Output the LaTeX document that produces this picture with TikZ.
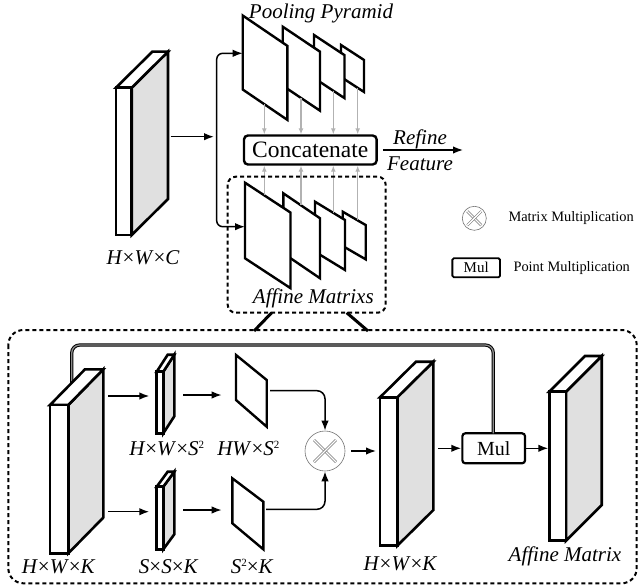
\documentclass[tikz,border=0pt]{standalone}
\usepackage{fontspec}
\setmainfont{Liberation Serif}
\usetikzlibrary{arrows.meta}
\tikzset{
  blk/.style={line width=2.6pt},
  plane/.style={line width=2.4pt, fill=white},
  arr/.style={line width=1.5pt, -{Latex[length=10pt,width=7.5pt]}},
  garr/.style={line width=1.4pt, draw=black!30, -{Latex[length=6pt,width=5pt]}},
  lbl/.style={font=\fontsize{21}{21}\selectfont\itshape, inner sep=0pt},
  dashbox/.style={line width=2pt, dash pattern=on 4pt off 3pt},
  otimes/.style={draw=black!55, line width=0.6pt, fill=white},
  xline/.style={draw=black!55, double=white, double distance=1.3pt, line width=0.6pt},
}
\newcommand\myblock[6]{%
  \filldraw[blk, fill=black!12] (#2,#3) -- ++(#5,-#6) -- ++(0,#4-#3) -- (#2,#4) -- cycle;
  \filldraw[blk, fill=white] (#1,#3) -- (#2,#3) -- ++(#5,-#6) -- ++(#1-#2,0) -- cycle;
  \filldraw[blk, fill=white] (#1,#3) rectangle (#2,#4);
}
\newcommand\myplane[5]{\filldraw[plane] (#1,#2) -- ++(#3,#3*#5) -- ++(0,#4) -- ++(-#3,-#3*#5) -- cycle;}
\newcommand\sqr{\raisebox{7pt}{\upshape\fontsize{11}{11}\selectfont 2}}
\begin{document}
\begin{tikzpicture}[x=1pt,y=-1pt]
\useasboundingbox (0,0) rectangle (640,586);

% ---------- top part ----------
\myblock{116}{131.7}{87.7}{235}{36.3}{36}
\node[lbl] (lc) at (143,258) {H\textup{×}W\textup{×}C};

\coordinate (cout) at (170.7,136.7);
\coordinate (cin) at (214,136.7);
\draw[arr] (cout) -- (cin);

% pyramid planes (back to front)
\myplane{341}{45}{23}{32}{0.65}
\myplane{314}{35}{30.5}{43}{0.66}
\myplane{282.7}{26.7}{37.3}{59}{0.67}
\myplane{242.7}{15.5}{44.6}{74}{0.68}
\node[lbl] (pp) at (321,13) {Pooling Pyramid};

% affine planes
\myplane{342.7}{211.7}{23}{34.3}{0.58}
\myplane{315}{201.7}{30}{50}{0.61}
\myplane{283.3}{193.3}{36.7}{60}{0.68}
\myplane{245}{182.7}{45.5}{75.6}{0.656}

% branch line
\coordinate (ptop) at (242.7,53.3);
\coordinate (abot) at (245,226.7);
\draw[line width=1.5pt, rounded corners=6pt, {Latex[length=10pt,width=7.5pt]}-{Latex[length=10pt,width=7.5pt]}]
  (ptop) -- (216.7,53.3) -- (216.7,226.7) -- (abot);

% concatenate
\node[draw, line width=2.4pt, rounded corners=4pt, minimum width=132.7pt, minimum height=29pt,
      inner sep=0pt, font=\fontsize{23.5}{23.5}\selectfont] (cat) at (310.3,150) {Concatenate};

\coordinate (g1) at (264.3,104.2);
\coordinate (g2) at (301,98);
\coordinate (g3) at (333.3,90.7);
\coordinate (g4) at (357.7,87.9);
\foreach \g in {g1,g2,g3,g4} \draw[garr] (\g) -- (\g |- cat.north);
\coordinate (h1) at (264.3,195.4);
\coordinate (h2) at (301,205.3);
\coordinate (h3) at (333.3,212.9);
\coordinate (h4) at (357.7,220.4);
\foreach \g in {h1,h2,h3,h4} \draw[garr] (\g) -- (\g |- cat.south);

\coordinate (rf) at (463,150);
\draw[arr] ([xshift=5pt]cat.east) -- (rf);
\node[lbl] (refine) at (420,139) {Refine};
\node[lbl] (feature) at (420,164) {Feature};

% affine dashed box
\draw[dashbox, rounded corners=8pt] (227.7,176.7) rectangle (385.7,312.7);
\node[lbl] (am) at (313.3,298) {Affine Matrixs};

\coordinate (l1) at (271.7,312.7);
\coordinate (l2) at (254,331);
\coordinate (r1) at (346.7,312.7);
\coordinate (r2) at (368,331);
\draw[line width=3pt] (l1) -- (l2);
\draw[line width=3pt] (r1) -- (r2);

% legend
\node[otimes, circle, minimum size=24pt, inner sep=0pt] (lgx) at (474.3,218.3) {};
\draw[xline] ([shift={(-7,-7)}]lgx.center) -- ([shift={(7,7)}]lgx.center);
\draw[xline] ([shift={(-7,7)}]lgx.center) -- ([shift={(7,-7)}]lgx.center);
\node[anchor=west, inner sep=0pt, font=\fontsize{14.4}{14.4}\selectfont] (lgxt) at (508.3,218.3) {Matrix Multiplication};
\node[draw, line width=1.8pt, rounded corners=1.5pt, minimum width=47.7pt, minimum height=19pt, inner sep=0pt,
      font=\fontsize{15}{15}\selectfont] (lgm) at (476.2,267.8) {Mul};
\node[anchor=west, inner sep=0pt, font=\fontsize{14.4}{14.4}\selectfont] (lgmt) at (513.3,268.3) {Point Multiplication};

% ---------- bottom part ----------
\draw[dashbox, rounded corners=15pt] (8.3,330) rectangle (636.7,583.3);

\node[draw, line width=2.2pt, rounded corners=3pt, minimum width=62.7pt, minimum height=30pt,
      inner sep=0pt, font=\fontsize{20}{20}\selectfont, fill=white] (mul) at (493.7,448.3) {Mul};

% skip connection
\coordinate (sk) at (71.7,400);
\draw[line width=1pt, draw=black, double=black!45, double distance=1.3pt, rounded corners=8pt]
  (sk) -- (71.7,345) -- (493.3,345) -- (493.3,433.3);

\myblock{50}{68.3}{405}{553.3}{35}{35.7}
\node[lbl] (k1) at (58.3,566.7) {H\textup{×}W\textup{×}K};

\myblock{156.7}{163.3}{371.7}{433.3}{11}{17}
\myblock{156.7}{163.3}{486.7}{549.3}{11}{15}
\node[lbl] (s1) at (166.7,448.3) {H\textup{×}W\textup{×}S\sqr};
\node[lbl] (s2) at (168.3,566.7) {S\textup{×}S\textup{×}K};

\filldraw[plane] (236,355) -- (266.7,380) -- (266.7,426.7) -- (236,400) -- cycle;
\filldraw[plane] (232.3,478.3) -- (263.3,501.7) -- (263.3,549.3) -- (232.3,523.3) -- cycle;
\node[lbl] (s3) at (248.3,448.3) {HW\textup{×}S\sqr};
\node[lbl] (s4) at (251.7,566.7) {S\sqr\textup{×}K};

\coordinate (b1a) at (108.3,396);  \coordinate (b1b) at (149.3,396);
\coordinate (b2a) at (108.3,511.7);\coordinate (b2b) at (149.3,511.7);
\coordinate (b3a) at (183.3,395);  \coordinate (b3b) at (221.7,395);
\coordinate (b4a) at (183.3,510);  \coordinate (b4b) at (221.7,510);
\draw[arr] (b1a) -- (b1b);
\draw[arr] (b2a) -- (b2b);
\draw[arr] (b3a) -- (b3b);
\draw[arr] (b4a) -- (b4b);

\node[otimes, circle, minimum size=40pt, inner sep=0pt] (mx) at (325,451) {};
\draw[xline] ([shift={(-11,-11)}]mx.center) -- ([shift={(11,11)}]mx.center);
\draw[xline] ([shift={(-11,11)}]mx.center) -- ([shift={(11,-11)}]mx.center);

\coordinate (up) at (270,390.7);
\coordinate (lo) at (266,509.3);
\draw[arr, rounded corners=8pt] (up) -| (mx.north);
\draw[arr, rounded corners=8pt] (lo) -| (mx.south);

\myblock{380}{397.3}{397.3}{545.7}{36}{35.6}
\node[lbl] (k2) at (400,563.3) {H\textup{×}W\textup{×}K};
\coordinate (b2in) at (376,451);
\draw[arr] ([xshift=6pt]mx.east) -- (b2in);

\coordinate (b2out) at (438.3,448.3);
\draw[arr] (b2out) -- (mul.west);

\myblock{549.3}{566}{391.7}{540.7}{35.7}{35.7}
\coordinate (b3in) at (548.3,448.3);
\draw[arr] (mul.east) -- (b3in);
\node[lbl] (afm) at (565,556.7) {Affine Matrix};
\end{tikzpicture}
\end{document}
